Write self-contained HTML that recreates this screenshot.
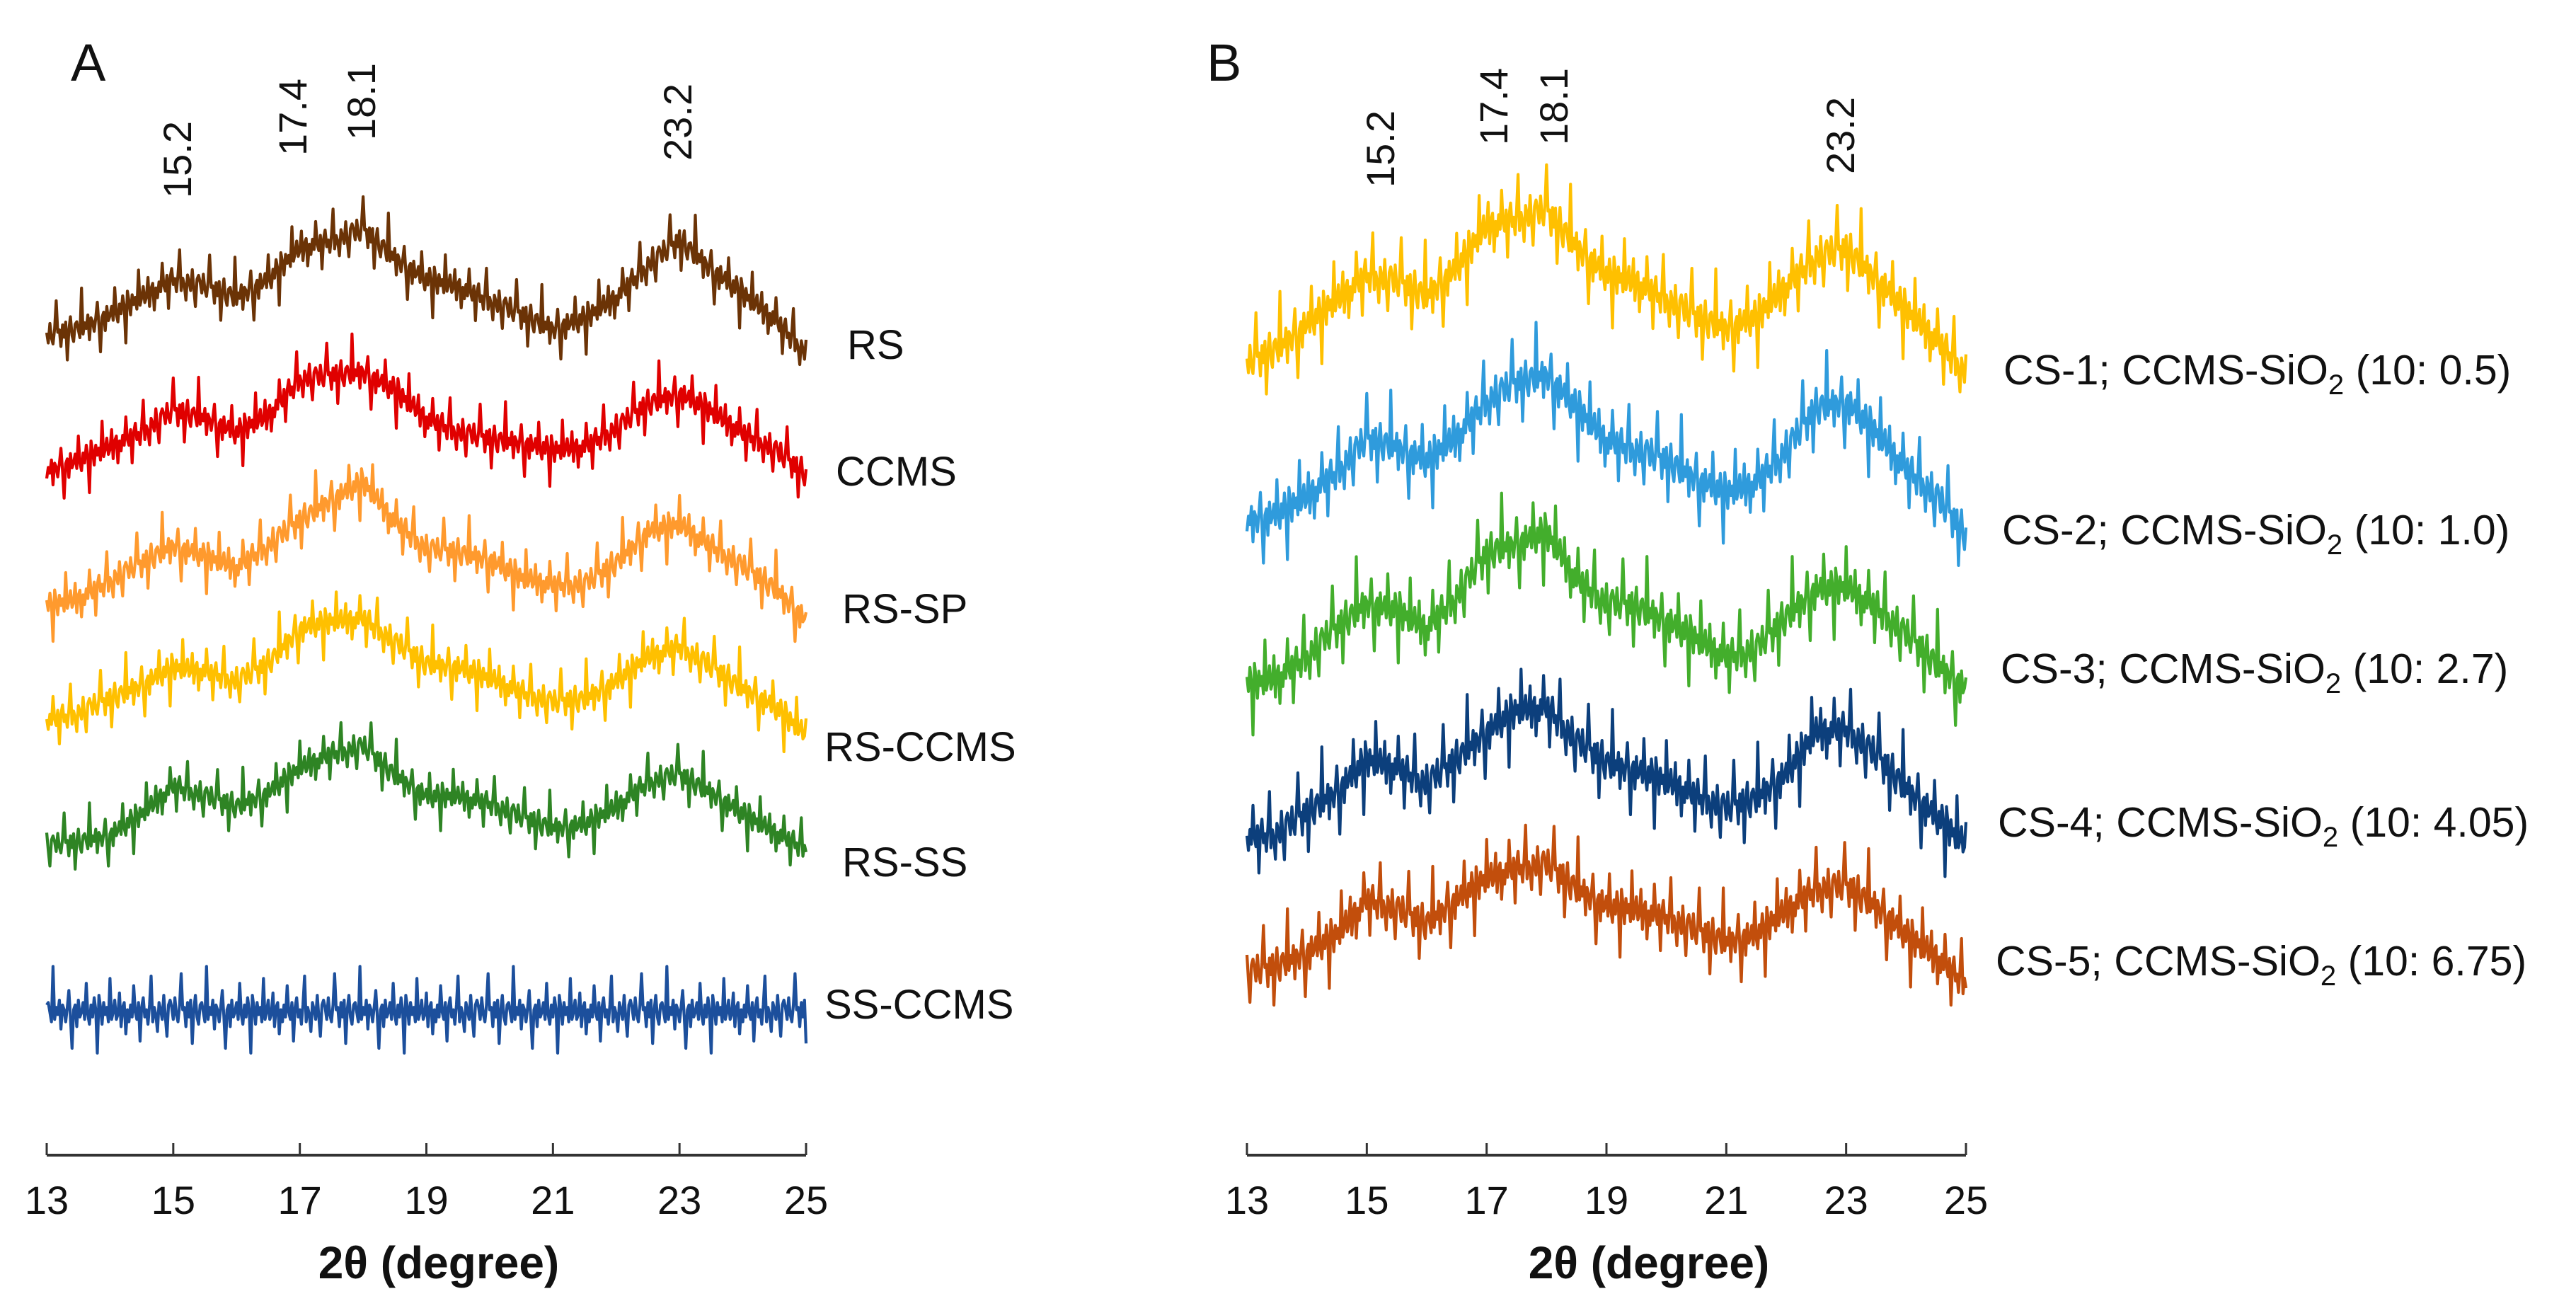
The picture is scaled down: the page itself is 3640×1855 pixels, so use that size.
<!DOCTYPE html>
<html><head><meta charset="utf-8"><style>
html,body{margin:0;padding:0;background:#fff}
svg{display:block}
text{font-family:"Liberation Sans",Arial,sans-serif;fill:#111}
</style></head><body>
<svg id="chart" width="3640" height="1855" viewBox="0 0 3640 1855" xmlns="http://www.w3.org/2000/svg">
<rect width="3640" height="1855" fill="#fff"/>
<g id="panelA"></g>
<g id="panelB"></g>
</svg>
<script>
// ---- data ----
const envX = [13,13.5,14,14.5,15,15.5,16,16.5,17,17.5,18,18.5,19,19.5,20,20.5,21,21.5,22,22.5,23,23.5,24,24.5,25];
const xTicks = [13,15,17,19,21,23,25];
const peakLabels = ["15.2","17.4","18.1","23.2"];
const namesA = ["RS","CCMS","RS-SP","RS-CCMS","RS-SS","SS-CCMS"];
const colorsA = ["#6b3306","#e00000","#ff9a2e","#ffc000","#2e8424","#1c4f9c"];
const offsetsA = [476,667,857,1019,1196,1430];
const rsVals = [0,10,30,55,80,70,55,80,125,135,150,110,80,70,50,30,10,25,55,100,135,95,60,25,-25];
const ccmsVals = [0,15,35,55,85,75,55,80,130,135,140,115,75,55,45,40,30,35,60,95,110,85,55,30,-5];
const rsspVals = [0,10,35,60,85,70,55,85,120,150,175,120,80,75,65,40,30,30,60,105,115,85,55,25,-20];
const rsccmsVals = [0,10,30,50,75,70,55,80,130,140,145,110,80,75,60,40,25,30,55,90,105,75,45,20,-20];
const rsssVals = [0,5,15,45,85,70,55,75,110,130,140,100,70,70,60,40,25,30,55,90,100,75,45,20,-5];
const ssccmsVals = [0,0,0,0,0,0,0,0,0,0,0,0,0,0,0,0,0,0,0,0,0,0,0,0,0];
const namesB = ["CS-1; CCMS-SiO|2| (10: 0.5)","CS-2; CCMS-SiO|2| (10: 1.0)","CS-3; CCMS-SiO|2| (10: 2.7)","CS-4; CCMS-SiO|2| (10: 4.05)","CS-5; CCMS-SiO|2| (10: 6.75)"];
const colorsB = ["#ffc000","#2f9bdc","#43ae2c","#0c3f7c","#c24e0c"];
const offsetsB = [515,738,969,1185,1377];
const cs1Vals = [0,20,55,90,125,115,95,135,195,205,215,165,125,115,90,65,50,65,110,150,161,120,75,35,-15];
const cs2Vals = [0,10,35,70,115,105,85,120,170,195,207,160,115,100,85,60,40,55,100,160,169,125,75,35,-20];
const cs3Vals = [0,10,40,80,115,105,80,125,185,200,215,150,115,110,90,65,40,50,95,135,138,110,70,30,-5];
const cs4Vals = [0,5,35,65,110,100,75,110,150,180,185,135,105,95,80,60,40,55,90,150,154,115,70,30,-10];
const cs5Vals = [0,10,30,55,105,90,70,105,135,150,154,120,95,90,80,60,45,55,90,120,123,95,55,25,-15];
// hand-typed fine structure (counting noise), unitless
const noise = [0.2,-0.3,0.6,-0.1,-0.4,0.3,1.6,0.1,0.2,-0.6,0.4,-0.2,0.5,-1.3,0.1,0.7,-0.2,-0.5,0.3,0.4,0.0,-0.4,1.9,-0.3,0.2,-0.1,0.5,-0.7,0.3,0.1,-0.4,0.2,0.9,-0.2,-1.5,0.1,0.3,-0.6,0.5,-0.2,0.0,0.4,-0.3,1.2,-0.1,-0.5,0.3,-0.2,0.6,0.1,-1.7,0.7,0.2,-0.5,0.4,-0.1,0.2,-0.4,1.4,-0.3,0.0,0.5,-0.3,-0.1,0.8,-0.6,0.2,0.4,-0.9,0.1,-0.4,0.3,-0.2,1.1,0.0,-0.3,0.4,-1.2,0.2,0.6,-0.2,0.1,-0.5,0.3,1.5,-0.4,0.2,-0.1,-0.8,0.4,0.1,-0.3,0.7,-0.2,-1.0,0.3,0.5];

const seriesA = [rsVals,ccmsVals,rsspVals,rsccmsVals,rsssVals,ssccmsVals];
const seriesB = [cs1Vals,cs2Vals,cs3Vals,cs4Vals,cs5Vals];

const NS = "http://www.w3.org/2000/svg";
function mk(tag, attrs, parent){const e=document.createElementNS(NS,tag);for(const k in attrs)e.setAttribute(k,attrs[k]);parent.appendChild(e);return e;}

function envAt(vals,x){
  const t=(x-envX[0])/(envX[1]-envX[0]);let i=Math.floor(t);if(i>=vals.length-1)return vals[vals.length-1];
  const f=t-i;return vals[i]*(1-f)+vals[i+1]*f;
}

function drawPanel(g, cfg){
  const xs = v => cfg.x0 + (v-13)/(25-13)*(cfg.x1-cfg.x0);
  const ax = mk('g',{},g);
  
  
  const ln = mk('line',{x1:cfg.x0,x2:cfg.x1,y1:1632,y2:1632,stroke:'#333','stroke-width':4},ax);
  
  
  xTicks.forEach(t=>{
    const tk=mk('line',{x1:xs(t),x2:xs(t),y1:1632,y2:1615,stroke:'#333','stroke-width':3},ax);
    
    
    const tl=mk('text',{x:xs(t),y:1715,'font-size':56,'text-anchor':'middle'},ax);
    tl.textContent=t;
    
    
  });
  const xt=mk('text',{x:cfg.xlabelX,y:1806,'font-size':64,'font-weight':'bold','text-anchor':'middle'},ax);
  xt.textContent='2θ (degree)';
  
  
  const pl=mk('text',{x:cfg.letterX,y:114,'font-size':74},g);
  pl.textContent=cfg.letter;
  
  
  peakLabels.forEach((p,i)=>{
    const t=mk('text',{'font-size':56,transform:`translate(${cfg.peakX[i]+20},${cfg.peakY[i]}) rotate(-90)`},g);
    t.textContent=p;
    
    
  });
  cfg.series.forEach((vals,si)=>{
    let d='';const n=480;const shift=si*23;
    for(let k=0;k<=n;k++){
      const x=13+12*k/n;
      const v=envAt(vals,x)+cfg.amp[si]*noise[(k+shift)%noise.length];
      const y=cfg.offsets[si]-v;
      d+=(k?'L':'M')+xs(x).toFixed(1)+','+y.toFixed(1);
    }
    const p=mk('path',{d:d,fill:'none',stroke:cfg.colors[si],'stroke-width':4.2,'stroke-linejoin':'round'},g);
    
    
    const parts=cfg.names[si].split('|');
    const lb=mk('text',{x:cfg.labelX[si],y:cfg.labelY[si],'font-size':cfg.fs},g);
    
    
    if(parts.length===1){lb.textContent=parts[0];}
    else{
      const a=mk('tspan',{},lb);a.textContent=parts[0];
      const b=mk('tspan',{dy:14,'font-size':40},lb);b.textContent=parts[1];
      const c=mk('tspan',{dy:-14},lb);c.textContent=parts[2];
    }
  });
}

drawPanel(document.getElementById('panelA'),{
  x0:66,x1:1139,letter:'A',letterX:100,xlabelX:620,fs:58,
  peakX:[250,413,510,957],peakY:[280,220,198,227],
  series:seriesA,names:namesA,colors:colorsA,offsets:offsetsA,
  amp:[30,30,30,30,28,34],
  labelX:[1197,1181,1190,1165,1190,1165],labelY:[507,686,880,1075,1238,1439]
});
drawPanel(document.getElementById('panelB'),{
  x0:1762,x1:2778,letter:'B',letterX:1705,xlabelX:2330,fs:59,
  peakX:[1950,2110,2195,2600],peakY:[265,205,205,246],
  series:seriesB,names:namesB,colors:colorsB,offsets:offsetsB,
  amp:[42,42,42,42,40],
  labelX:[2831,2829,2827,2823,2820],labelY:[543,769,965,1182,1378]
});
</script>
</body></html>
